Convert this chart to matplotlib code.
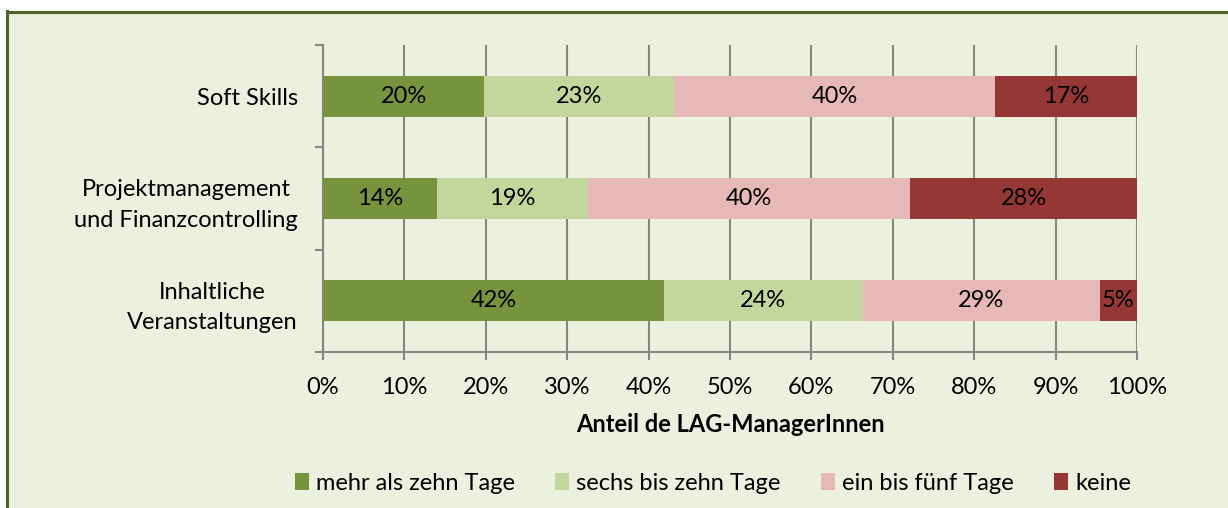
import matplotlib
matplotlib.use("Agg")
import matplotlib.pyplot as plt
import numpy as np
from matplotlib.patches import Rectangle
from matplotlib.lines import Line2D

plt.rcParams['font.family'] = ['Lato', 'DejaVu Sans']

categories = ["Inhaltliche\nVeranstaltungen", "Projektmanagement\nund Finanzcontrolling", "Soft Skills"]
series_names = ["mehr als zehn Tage", "sechs bis zehn Tage", "ein bis fünf Tage", "keine"]
mehr = [41.9, 14.0, 19.8]
sechs = [24.4, 18.6, 23.3]
ein = [29.1, 39.5, 39.5]
keine = [4.6, 27.9, 17.4]
labels_mehr = ["42%", "14%", "20%"]
labels_sechs = ["24%", "19%", "23%"]
labels_ein = ["29%", "40%", "40%"]
labels_keine = ["5%", "28%", "17%"]
xticks = [0, 10, 20, 30, 40, 50, 60, 70, 80, 90, 100]
xtick_labels = ["0%", "10%", "20%", "30%", "40%", "50%", "60%", "70%", "80%", "90%", "100%"]
xlabel = "Anteil de LAG-ManagerInnen"

colors = ["#77933C", "#C3D69B", "#E6B9B8", "#953735"]
bg = "#EBF1DE"
grid_c = "#868686"
FS = 17

W, H = 1228, 508
fig = plt.figure(figsize=(W / 100, H / 100), dpi=100)
fig.patch.set_facecolor("white")
fig.add_artist(Rectangle((7 / W, 0), 1 - 7 / W, 1 - 12 / H, transform=fig.transFigure,
                         facecolor=bg, edgecolor="none", zorder=-10))
fig.add_artist(Line2D([6.5 / W, 1], [1 - 12 / H, 1 - 12 / H], transform=fig.transFigure,
                      color="#4F6228", lw=2.2))
fig.add_artist(Line2D([7 / W, 7 / W], [0, 1 - 11 / H], transform=fig.transFigure,
                      color="#4F6228", lw=2.2))

left, right, top, bottom = 323, 1137, 45, 352
ax = fig.add_axes([left / W, 1 - bottom / H, (right - left) / W, (bottom - top) / H])
ax.set_facecolor(bg)

y = np.arange(len(categories))
series = [mehr, sechs, ein, keine]
lbls = [labels_mehr, labels_sechs, labels_ein, labels_keine]
cum = np.zeros(len(categories))
handles = []
for vals, lab, col, name in zip(series, lbls, colors, series_names):
    vals = np.array(vals)
    b = ax.barh(y, vals, left=cum, height=0.4, color=col, edgecolor="none", label=name, zorder=3)
    handles.append(b)
    for yi, v, c, t in zip(y, vals, cum, lab):
        ax.text(c + v / 2, yi, t, ha="center", va="center", fontsize=FS, color="black", zorder=4)
    cum = cum + vals

ax.set_xlim(0, 100)
ax.set_ylim(-0.5, len(categories) - 0.5)
ax.set_xticks(xticks)
ax.set_xticklabels(xtick_labels, fontsize=FS)
ax.xaxis.grid(True, color=grid_c, lw=1.5, zorder=0)
ax.set_axisbelow(True)

ax.set_yticks(np.arange(len(categories) + 1) - 0.5)
ax.set_yticklabels([])
ax.set_yticks(y, minor=True)
ax.set_yticklabels(categories, minor=True, fontsize=FS, ha="right", multialignment="center",
                   linespacing=1.55)
ax.tick_params(axis="y", which="minor", length=0, pad=18)
ax.tick_params(axis="y", which="major", length=6, width=1.5, color=grid_c, direction="out")
ax.tick_params(axis="x", which="major", length=6, width=1.5, color=grid_c, direction="out", pad=12)

for s in ["top", "right"]:
    ax.spines[s].set_visible(False)
for s in ["left", "bottom"]:
    ax.spines[s].set_color(grid_c)
    ax.spines[s].set_linewidth(1.5)

fig.text((left + right) / 2 / W, 1 - 424 / H, xlabel, ha="center", va="center",
         fontsize=FS, fontweight="bold")

fig.legend(handles=handles, labels=series_names, loc="center", bbox_to_anchor=(713 / W, 1 - 483 / H),
           ncol=4, frameon=False, fontsize=FS, handlelength=0.6, handleheight=0.7,
           handletextpad=0.3, columnspacing=1.7)

fig.savefig("out.png", dpi=100, facecolor=fig.get_facecolor())
